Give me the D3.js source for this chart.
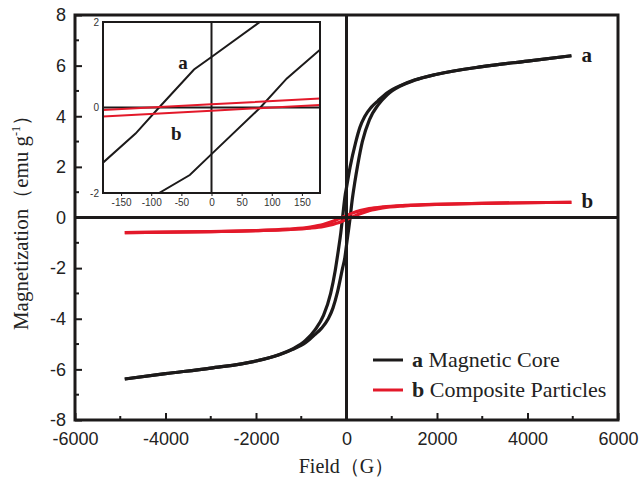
<!DOCTYPE html>
<html>
<head>
<meta charset="utf-8">
<script src="https://cdn.jsdelivr.net/npm/d3@7"></script>
<style>
  html, body { margin: 0; padding: 0; background: #fff; }
  svg { display: block; }
</style>
</head>
<body>
<svg id="chart" width="641" height="486"></svg>
<script>
// Hysteresis loops: field (G) vs magnetization (emu/g)
// a: magnetic core, descending (from +H) and ascending (from -H) branches
const coreDownH = [4970, 4000, 3000, 2000, 1500, 1200, 900, 700, 550, 400, 300, 200, 78, 0, -29, -87, -126, -180, -250, -350, -508, -700, -900, -1200, -1500, -2000, -3000, -4000, -4900];
const coreDownM = [6.39, 6.18, 5.96, 5.66, 5.43, 5.22, 4.93, 4.62, 4.36, 3.98, 3.58, 2.95, 1.98, 1.18, 0.89, 0.0, -0.61, -1.29, -2.1, -3.0, -3.87, -4.45, -4.85, -5.2, -5.42, -5.67, -5.95, -6.17, -6.38];
const coreUpH = [-4900, -4000, -3000, -2000, -1500, -1200, -900, -700, -550, -400, -300, -200, -87, -36, 0, 81, 125, 179, 250, 350, 508, 700, 900, 1200, 1500, 2000, 3000, 4000, 4970];
const coreUpM = [-6.38, -6.17, -5.95, -5.67, -5.43, -5.22, -4.94, -4.63, -4.37, -3.99, -3.58, -2.95, -2.0, -1.58, -1.09, 0.0, 0.68, 1.34, 2.1, 3.0, 3.87, 4.45, 4.85, 5.2, 5.42, 5.66, 5.96, 6.18, 6.39];

// b: composite particles
const compDownH = [4970, 3000, 2000, 1300, 800, 500, 300, 180, 0, -180, -300, -500, -800, -1300, -2000, -3000, -4900];
const compDownM = [0.6, 0.56, 0.52, 0.48, 0.42, 0.35, 0.27, 0.21, 0.075, -0.06, -0.15, -0.27, -0.38, -0.46, -0.52, -0.56, -0.6];
const compUpH = [-4900, -3000, -2000, -1300, -800, -500, -300, -180, 0, 180, 300, 500, 800, 1300, 2000, 3000, 4970];
const compUpM = [-0.6, -0.56, -0.52, -0.48, -0.42, -0.35, -0.27, -0.21, -0.075, 0.06, 0.15, 0.27, 0.38, 0.46, 0.52, 0.56, 0.6];

const xTicks = [-6000, -4000, -2000, 0, 2000, 4000, 6000];
const yTicks = [-8, -6, -4, -2, 0, 2, 4, 6, 8];
const insetXTicks = [-150, -100, -50, 0, 50, 100, 150];
const insetYTicks = [-2, 0, 2];

const seriesNames = ["Magnetic Core", "Composite Particles"];
const seriesKeys = ["a", "b"];
const colors = ["#1c1a1a", "#e3192a"];

const zip = (hs, ms) => hs.map((h, i) => [h, ms[i]]);
const series = [
  { key: "a", color: colors[0], branches: [zip(coreDownH, coreDownM), zip(coreUpH, coreUpM)] },
  { key: "b", color: colors[1], branches: [zip(compDownH, compDownM), zip(compUpH, compUpM)] }
];

const svg = d3.select("#chart");
const serif = "'Liberation Serif', 'Times New Roman', serif";
const sans = "'Liberation Sans', Arial, sans-serif";
const plainNum = d => String(d);   // hyphen-minus, as printed on the axes

// ---- main plot ----
const x = d3.scaleLinear().domain([-6000, 6000]).range([75, 618]);
const y = d3.scaleLinear().domain([-8, 8]).range([420, 15]);

const main = svg.append("g");

// curves
const line = d3.line().x(d => x(d[0])).y(d => y(d[1])).curve(d3.curveMonotoneX);
series.forEach(s => {
  s.branches.forEach(b => {
    main.append("path").attr("d", line(b)).attr("fill", "none")
      .attr("stroke", s.color).attr("stroke-width", 3.2).attr("stroke-linejoin", "round");
  });
});

// zero lines
main.append("line").attr("x1", x(-6000)).attr("x2", x(6000)).attr("y1", y(0)).attr("y2", y(0))
  .attr("stroke", "#1c1a1a").attr("stroke-width", 3);
main.append("line").attr("x1", x(0)).attr("x2", x(0)).attr("y1", y(8)).attr("y2", y(-8))
  .attr("stroke", "#1c1a1a").attr("stroke-width", 3);

// axes with inward ticks
const xAxis = d3.axisBottom(x).tickValues(xTicks).tickSize(-7).tickPadding(16).tickFormat(plainNum);
const gx = main.append("g").attr("transform", `translate(0,${y(-8)})`).call(xAxis);
const yAxis = d3.axisLeft(y).tickValues(yTicks).tickSize(-7).tickPadding(9).tickFormat(plainNum);
const gy = main.append("g").attr("transform", `translate(${x(-6000)},0)`).call(yAxis);
[gx, gy].forEach(g => {
  g.select(".domain").remove();
  g.selectAll(".tick line").attr("stroke", "#1c1a1a").attr("stroke-width", 2);
  g.selectAll(".tick text").attr("fill", "#222").style("font-family", sans).style("font-size", "18px");
});
gx.selectAll(".tick text").attr("dy", "0.5em");
// minor ticks
const xMinor = d3.range(-5000, 6000, 2000);
main.selectAll(".xminor").data(xMinor).join("line")
  .attr("x1", d => x(d)).attr("x2", d => x(d)).attr("y1", y(-8)).attr("y2", y(-8) - 4)
  .attr("stroke", "#1c1a1a").attr("stroke-width", 2);
const yMinor = d3.range(-7, 8, 2);
main.selectAll(".yminor").data(yMinor).join("line")
  .attr("x1", x(-6000)).attr("x2", x(-6000) + 4).attr("y1", d => y(d)).attr("y2", d => y(d))
  .attr("stroke", "#1c1a1a").attr("stroke-width", 2);

// frame
main.append("rect").attr("x", x(-6000)).attr("y", y(8)).attr("width", x(6000) - x(-6000)).attr("height", y(-8) - y(8))
  .attr("fill", "none").attr("stroke", "#1c1a1a").attr("stroke-width", 3);

// end labels
main.append("text").attr("x", x(4970) + 10).attr("y", y(6.39) + 6).text("a")
  .style("font-family", serif).style("font-weight", "bold").style("font-size", "21px").attr("fill", "#1c1a1a");
main.append("text").attr("x", x(4970) + 10).attr("y", y(0.6) + 6).text("b")
  .style("font-family", serif).style("font-weight", "bold").style("font-size", "21px").attr("fill", "#1c1a1a");

// axis titles
main.append("text").attr("x", x(0)).attr("y", 473).attr("text-anchor", "middle")
  .style("font-family", serif).style("font-size", "20px").attr("fill", "#222").text("Field（G）");
const yl = main.append("text").attr("transform", `translate(28,${y(0)}) rotate(-90)`).attr("text-anchor", "middle")
  .style("font-family", serif).style("font-size", "21px").attr("fill", "#222");
yl.append("tspan").text("Magnetization（emu g");
yl.append("tspan").attr("dy", -8).style("font-size", "12px").text("-1");
yl.append("tspan").attr("dy", 8).text("）");

// legend
const legend = main.append("g").attr("transform", "translate(373,360)");
seriesNames.forEach((name, i) => {
  const g = legend.append("g").attr("transform", `translate(0,${i * 30})`);
  g.append("line").attr("x1", 0).attr("x2", 30).attr("y1", 0).attr("y2", 0)
    .attr("stroke", colors[i]).attr("stroke-width", 3);
  const t = g.append("text").attr("x", 39).attr("y", 7).style("font-family", serif).style("font-size", "22px").attr("fill", "#222");
  t.append("tspan").style("font-weight", "bold").text(seriesKeys[i] + " ");
  t.append("tspan").text(name);
});

// ---- inset: low-field region ----
const ix = d3.scaleLinear().domain([-180, 180]).range([103, 320]);
const iy = d3.scaleLinear().domain([-2, 2]).range([193, 22]);
const inset = svg.append("g");
inset.append("rect").attr("x", ix(-180)).attr("y", iy(2)).attr("width", ix(180) - ix(-180)).attr("height", iy(-2) - iy(2))
  .attr("fill", "#fff");
svg.append("defs").append("clipPath").attr("id", "insetClip").append("rect")
  .attr("x", ix(-180)).attr("y", iy(2)).attr("width", ix(180) - ix(-180)).attr("height", iy(-2) - iy(2));
const plotArea = inset.append("g").attr("clip-path", "url(#insetClip)");

// zero lines in inset
plotArea.append("line").attr("x1", ix(-180)).attr("x2", ix(180)).attr("y1", iy(0)).attr("y2", iy(0))
  .attr("stroke", "#1c1a1a").attr("stroke-width", 2);
plotArea.append("line").attr("x1", ix(0)).attr("x2", ix(0)).attr("y1", iy(2)).attr("y2", iy(-2))
  .attr("stroke", "#1c1a1a").attr("stroke-width", 2);

const iline = d3.line().x(d => ix(d[0])).y(d => iy(d[1]));
series.forEach(s => {
  s.branches.forEach(b => {
    plotArea.append("path").attr("d", iline(b)).attr("fill", "none")
      .attr("stroke", s.color).attr("stroke-width", 2);
  });
});

const ixAxis = d3.axisBottom(ix).tickValues(insetXTicks).tickSize(3).tickPadding(3).tickFormat(plainNum);
const gix = inset.append("g").attr("transform", `translate(0,${iy(-2)})`).call(ixAxis);
const iyAxis = d3.axisLeft(iy).tickValues(insetYTicks).tickSize(0).tickPadding(4).tickFormat(plainNum);
const giy = inset.append("g").attr("transform", `translate(${ix(-180)},0)`).call(iyAxis);
[gix, giy].forEach(g => {
  g.select(".domain").remove();
  g.selectAll(".tick line").attr("stroke", "#1c1a1a").attr("stroke-width", 1);
  g.selectAll(".tick text").attr("fill", "#333").style("font-family", sans).style("font-size", "10px");
});
inset.append("rect").attr("x", ix(-180)).attr("y", iy(2)).attr("width", ix(180) - ix(-180)).attr("height", iy(-2) - iy(2))
  .attr("fill", "none").attr("stroke", "#1c1a1a").attr("stroke-width", 2);

inset.append("text").attr("x", ix(-55)).attr("y", iy(0.9)).text("a")
  .style("font-family", serif).style("font-weight", "bold").style("font-size", "19px").attr("fill", "#1c1a1a");
inset.append("text").attr("x", ix(-67)).attr("y", iy(-0.75)).text("b")
  .style("font-family", serif).style("font-weight", "bold").style("font-size", "19px").attr("fill", "#1c1a1a");
</script>
</body>
</html>
